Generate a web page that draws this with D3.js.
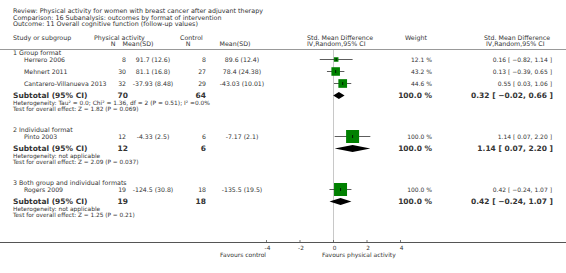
<!DOCTYPE html>
<html>
<head>
<meta charset="utf-8">
<script src="https://cdn.jsdelivr.net/npm/d3@7"></script>
<style>
  body { margin: 0; background: #fff; }
  text { font-family: "DejaVu Sans", Verdana, sans-serif; fill: #333; }
</style>
</head>
<body>
<svg width="566" height="273"></svg>
<script>
// header lines
var titleLines = [
  "Review:  Physical activity for women with breast cancer after adjuvant therapy",
  "Comparison:  16 Subanalysis: outcomes by format of intervention",
  "Outcome:  11 Overall cognitive function (follow-up values)"
];

// subgroups
var groups = ["1 Group format", "2 Individual format", "3 Both group and individual formats"];
var subN = [70, 12, 19];
var subCtrlN = [64, 6, 18];
var subSmd = [0.32, 1.14, 0.42];
var subLo = [-0.02, 0.07, -0.24];
var subHi = [0.66, 2.20, 1.07];
var hetText = [
  "Heterogeneity: Tau\u00B2 = 0.0; Chi\u00B2 = 1.36, df = 2 (P = 0.51); I\u00B2 =0.0%",
  "Heterogeneity: not applicable",
  "Heterogeneity: not applicable"
];
var testText = [
  "Test for overall effect: Z = 1.82 (P = 0.069)",
  "Test for overall effect: Z = 2.09 (P = 0.037)",
  "Test for overall effect: Z = 1.25 (P = 0.21)"
];

// studies
var studies = ["Herrero 2006", "Mehnert 2011", "Cantarero-Villanueva 2013", "Pinto 2003", "Rogers 2009"];
var studyGroup = [0, 0, 0, 1, 2];
var paN = [8, 30, 32, 12, 19];
var paMean = [91.7, 81.1, -37.93, -4.33, -124.5];
var paSD = [12.6, 16.8, 8.48, 2.5, 30.8];
var ctrlN = [8, 27, 29, 6, 18];
var ctrlMean = [89.6, 78.4, -43.03, -7.17, -135.5];
var ctrlSD = [12.4, 24.38, 10.01, 2.1, 19.5];
var smd = [0.16, 0.13, 0.55, 1.14, 0.42];
var lo = [-0.82, -0.39, 0.03, 0.07, -0.24];
var hi = [1.14, 0.65, 1.06, 2.20, 1.07];
var weight = [12.1, 43.2, 44.6, 100.0, 100.0];

var ticks = [-4, -2, 0, 2, 4];

var svg = d3.select("svg");
var f2 = d3.format(".2f"), f1 = d3.format(".1f");
var ci = function(m, l, h){ return f2(m) + " [ " + f2(l) + ", " + f2(h) + " ]"; };

var x = d3.scaleLinear().domain([-4, 4]).range([266.5, 400.5]);
var box = d3.scaleSqrt().domain([0, 100]).range([0, 13]);

// title
svg.selectAll(".title").data(titleLines).enter().append("text")
  .attr("x", 13).attr("y", function(d, i){ return 13 + i * 6.5 })
  .style("font-size", "6.4px").text(function(d){ return d });

// column headers
var hdr = [
  [13, 40, "Study or subgroup", "start"],
  [94, 40, "Physical activity", "start"],
  [113, 46, "N", "middle"],
  [138, 46, "Mean(SD)", "middle"],
  [180, 40, "Control", "start"],
  [188, 46, "N", "middle"],
  [235, 46, "Mean(SD)", "middle"],
  [307, 40, "Std. Mean Difference", "start"],
  [307, 46, "IV,Random,95% CI", "start"],
  [405, 40, "Weight", "start"],
  [484, 40, "Std. Mean Difference", "start"],
  [486, 46, "IV,Random,95% CI", "start"]
];
svg.selectAll(".hdr").data(hdr).enter().append("text")
  .attr("x", function(d){ return d[0] }).attr("y", function(d){ return d[1] })
  .attr("text-anchor", function(d){ return d[3] })
  .style("font-size", "6.3px").text(function(d){ return d[2] });

svg.append("line").attr("x1", 0).attr("x2", 566).attr("y1", 49.5).attr("y2", 49.5)
  .attr("stroke", "#999").attr("stroke-width", 1);

// zero line
svg.append("line").attr("x1", x(0)).attr("x2", x(0)).attr("y1", 50).attr("y2", 242)
  .attr("stroke", "#c8c8c8").attr("stroke-width", 1);

// layout rows
var y = 53, rows = [];
groups.forEach(function(g, gi){
  rows.push({type: "group", g: gi, y: y});
  var first = true;
  studies.forEach(function(s, i){
    if (studyGroup[i] !== gi) return;
    y += first ? 6.5 : 12;
    first = false;
    rows.push({type: "study", i: i, y: y});
  });
  y += 12; rows.push({type: "sub", g: gi, y: y});
  y += 7; rows.push({type: "het", g: gi, y: y});
  y += 6; rows.push({type: "test", g: gi, y: y});
  y += 21.5;
});

rows.forEach(function(r){
  if (r.type === "group") {
    svg.append("text").attr("x", 13).attr("y", r.y + 2).style("font-size", "6.3px").text(groups[r.g]);
  } else if (r.type === "study") {
    var i = r.i, ty = r.y + 2;
    svg.append("text").attr("x", 24).attr("y", ty).style("font-size", "6.2px").text(studies[i]);
    svg.append("text").attr("x", 126).attr("y", ty).attr("text-anchor", "end").style("font-size", "6.2px").text(paN[i]);
    svg.append("text").attr("x", 153).attr("y", ty).attr("text-anchor", "middle").style("font-size", "6.2px").text(paMean[i] + " (" + paSD[i] + ")");
    svg.append("text").attr("x", 206).attr("y", ty).attr("text-anchor", "end").style("font-size", "6.2px").text(ctrlN[i]);
    svg.append("text").attr("x", 242).attr("y", ty).attr("text-anchor", "middle").style("font-size", "6.2px").text(ctrlMean[i] + " (" + ctrlSD[i] + ")");
    svg.append("text").attr("x", 432).attr("y", ty).attr("text-anchor", "end").style("font-size", "6px").text(f1(weight[i]) + " %");
    svg.append("text").attr("x", 552).attr("y", ty).attr("text-anchor", "end").style("font-size", "6px").text(ci(smd[i], lo[i], hi[i]));
    // CI line, box, centre tick
    svg.append("line").attr("x1", x(lo[i])).attr("x2", x(hi[i])).attr("y1", r.y).attr("y2", r.y)
      .attr("stroke", "#333").attr("stroke-width", 0.8);
    var s = box(weight[i]);
    svg.append("rect").attr("x", x(smd[i]) - s / 2).attr("y", r.y - s / 2).attr("width", s).attr("height", s)
      .attr("fill", "#008000");
    svg.append("line").attr("x1", x(smd[i])).attr("x2", x(smd[i])).attr("y1", r.y - 1.5).attr("y2", r.y + 1.5)
      .attr("stroke", "#000").attr("stroke-width", 0.8);
  } else if (r.type === "sub") {
    var g = r.g, by = r.y + 2.5;
    svg.append("text").attr("x", 13).attr("y", by).style("font-size", "7.5px").style("font-weight", "bold").text("Subtotal (95% CI)");
    svg.append("text").attr("x", 128).attr("y", by).attr("text-anchor", "end").style("font-size", "7.5px").style("font-weight", "bold").text(subN[g]);
    svg.append("text").attr("x", 206).attr("y", by).attr("text-anchor", "end").style("font-size", "7.5px").style("font-weight", "bold").text(subCtrlN[g]);
    svg.append("text").attr("x", 432).attr("y", by).attr("text-anchor", "end").style("font-size", "7.5px").style("font-weight", "bold").text(f1(100) + " %");
    svg.append("text").attr("x", 553).attr("y", by).attr("text-anchor", "end").style("font-size", "7.5px").style("font-weight", "bold").text(ci(subSmd[g], subLo[g], subHi[g]));
    var pts = [[x(subLo[g]), r.y], [x(subSmd[g]), r.y - 3.5], [x(subHi[g]), r.y], [x(subSmd[g]), r.y + 3.5]];
    svg.append("path").attr("d", d3.line()(pts) + "Z").attr("fill", "#000");
  } else if (r.type === "het") {
    svg.append("text").attr("x", 13).attr("y", r.y + 2).style("font-size", "5.9px").text(hetText[r.g]);
  } else {
    svg.append("text").attr("x", 13).attr("y", r.y + 2).style("font-size", "5.8px").text(testText[r.g]);
  }
});

// axis
svg.append("line").attr("x1", 0).attr("x2", 566).attr("y1", 242.5).attr("y2", 242.5)
  .attr("stroke", "#555").attr("stroke-width", 1);
svg.selectAll(".tick").data(ticks).enter().append("line")
  .attr("x1", function(d){ return x(d) }).attr("x2", function(d){ return x(d) })
  .attr("y1", 240).attr("y2", 242.5).attr("stroke", "#555").attr("stroke-width", 0.8);
svg.selectAll(".tl").data(ticks).enter().append("text")
  .attr("x", function(d){ return x(d) + 1 }).attr("y", 249.5)
  .attr("text-anchor", "middle").style("font-size", "5.8px").text(function(d){ return d });
svg.append("text").attr("x", 266).attr("y", 256.5).attr("text-anchor", "end").style("font-size", "6px").text("Favours control");
svg.append("text").attr("x", 322).attr("y", 256.5).style("font-size", "6px").text("Favours physical activity");
</script>
</body>
</html>
